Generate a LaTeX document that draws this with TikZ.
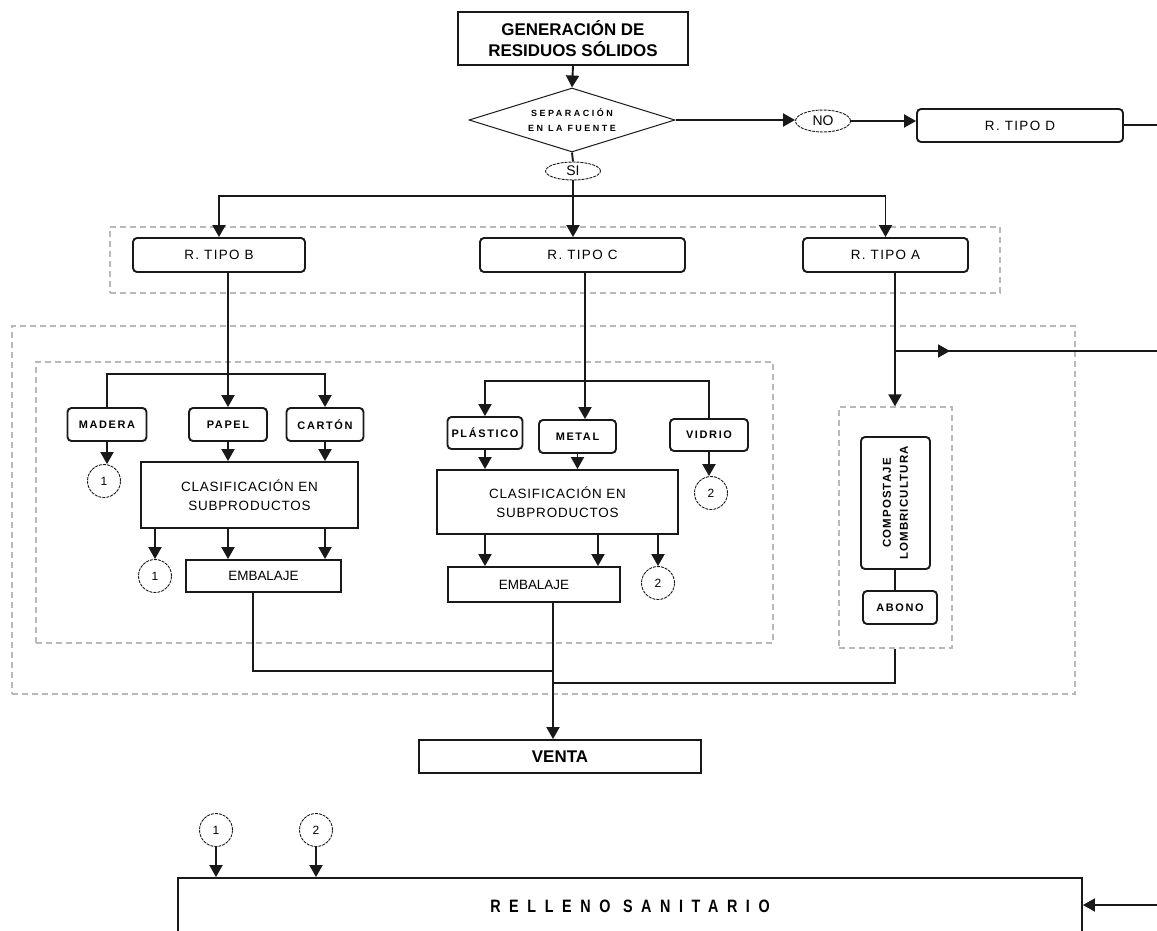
\documentclass[tikz,border=0pt]{standalone}
\usepackage{fontspec}
\setmainfont{Liberation Sans}
\usepackage{graphicx}
\usetikzlibrary{arrows.meta,shapes.geometric,calc}

% letter spacing in percent of the font size
\newcommand\spaced[1]{\addfontfeatures{LetterSpace=#1}}

\tikzset{
  ink/.style={draw=black!90, line width=1.9bp},
  sqbox/.style={ink, rectangle, inner sep=0bp, align=center},
  rbox/.style={sqbox, rounded corners=4bp},
  tipo/.style={rbox, minimum height=34bp, font=\fontsize{13.5}{15}\selectfont\spaced{10}},
  item/.style={rbox, minimum height=33bp, font=\fontsize{11}{13}\selectfont\bfseries\spaced{15}},
  group/.style={draw=gray!55, line width=1.2bp, dash pattern=on 6bp off 4bp, rectangle, inner sep=0bp},
  ref/.style={circle, draw=black!90, line width=0.9bp, dash pattern=on 3bp off 1bp, minimum size=33bp, inner sep=0bp, font=\fontsize{12}{14}\selectfont},
  tag/.style={ellipse, draw=black!90, line width=0.9bp, dash pattern=on 3bp off 1bp, inner sep=0bp, font=\fontsize{14}{16}\selectfont},
  flow/.style={ink, -{Triangle[width=13bp,length=12bp]}},
  link/.style={ink},
  clas/.style={sqbox, font=\fontsize{13.5}{19}\selectfont\spaced{6}},
}

\begin{document}
\begin{tikzpicture}[x=1bp,y=-1bp]
\useasboundingbox (0,0) rectangle (1157,931);
\fill[white] (0,0) rectangle (1157,931);
\clip (0,0) rectangle (1157,931);

% dashed groupings
\node[group, minimum width=890bp, minimum height=66bp] (gTipos) at (555,260) {};
\node[group, minimum width=1063bp, minimum height=368bp] (gProc) at (543.5,510) {};
\node[group, minimum width=737bp, minimum height=281bp] (gRecic) at (404.5,502.5) {};
\node[group, minimum width=113bp, minimum height=241bp] (gOrg) at (895.5,527.5) {};

% source and separation
\node[sqbox, minimum width=230bp, minimum height=53bp, font=\fontsize{17}{21}\selectfont\bfseries] (gen) at (573,38.5) {GENERACIÓN DE\\RESIDUOS SÓLIDOS};
\node[diamond, draw=black!90, line width=1bp, minimum width=206bp, minimum height=64bp, inner sep=0bp, aspect=3.2, align=center, font=\fontsize{9}{15}\selectfont\bfseries\spaced{28}] (sep) at (572,120) {SEPARACIÓN\\EN LA FUENTE};
\node[tag, minimum width=55bp, minimum height=18bp] (si) at (573,171) {SI};
\node[tag, minimum width=55bp, minimum height=22bp] (no) at (823,121) {NO};
\node[tipo, minimum width=206bp, minimum height=33bp] (tipoD) at (1020,125.5) {R. TIPO D};

% waste types
\node[tipo, minimum width=172bp] (tipoB) at (219,255) {R. TIPO B};
\node[tipo, minimum width=205bp] (tipoC) at (582.5,255) {R. TIPO C};
\node[tipo, minimum width=165bp] (tipoA) at (885.5,255) {R. TIPO A};

% type B
\node[item, minimum width=79bp] (madera) at (107,424.5) {MADERA};
\node[item, minimum width=78bp] (papel) at (228,424.5) {PAPEL};
\node[item, minimum width=77bp] (carton) at (325,424.5) {CARTÓN};
\node[ref] (r1a) at (104,481) {1};
\node[clas, minimum width=217bp, minimum height=66bp] (clasB) at (249.5,495) {CLASIFICACIÓN EN\\SUBPRODUCTOS};
\node[ref] (r1b) at (155,576) {1};
\node[sqbox, minimum width=155bp, minimum height=32bp, font=\fontsize{13.5}{16}\selectfont] (embB) at (263.5,576) {EMBALAJE};

% type C
\node[item, minimum width=75bp, minimum height=32bp] (plastico) at (485,433) {PLÁSTICO};
\node[item, minimum width=77bp] (metal) at (577.5,436.5) {METAL};
\node[item, minimum width=78bp, minimum height=32bp] (vidrio) at (709,435) {VIDRIO};
\node[ref] (r2a) at (711,493) {2};
\node[clas, minimum width=241bp, minimum height=64bp] (clasC) at (557.5,502) {CLASIFICACIÓN EN\\SUBPRODUCTOS};
\node[ref] (r2b) at (658,583) {2};
\node[sqbox, minimum width=172bp, minimum height=35bp, font=\fontsize{13.5}{16}\selectfont] (embC) at (534,584.5) {EMBALAJE};

% type A
\node[rbox, minimum width=69bp, minimum height=132bp] (compost) at (895.5,503) {};
\node[rotate=90, align=center, inner sep=0bp, font=\fontsize{11.5}{17}\selectfont\bfseries\spaced{10}] (compostText) at (compost.center) {COMPOSTAJE\\LOMBRICULTURA};
\node[item, minimum width=74bp] (abono) at (900,607.5) {ABONO};

% outputs
\node[sqbox, minimum width=282bp, minimum height=33bp, font=\fontsize{17}{20}\selectfont\bfseries] (venta) at (560,756.5) {VENTA};
\node[ref] (r1c) at (216,830) {1};
\node[ref] (r2c) at (316,830) {2};
\node[sqbox, minimum width=904bp, minimum height=56bp, font=\fontsize{18}{20}\selectfont\bfseries\spaced{60}] (relleno) at (630,906) {\scalebox{0.8}[1]{RELLENO SANITARIO}};

% junction points
\coordinate (fork) at (573,196);
\coordinate (bFork) at (228,374);
\coordinate (cFork) at (585,381);
\coordinate (aFork) at (895,351);
\coordinate (aMid) at (950,351);
\coordinate (trunk) at (553,671);
\coordinate (trunkA) at (553,683);
\coordinate (edgeD) at (1160,125);
\coordinate (edgeA) at (1160,351);
\coordinate (edgeR) at (1160,905);

% top part
\draw[flow] (gen.south) -- (sep.north);
\draw[link] (sep.south) -- (si.north);
\draw[flow] (sep.east) -- (sep.east -| no.west);
\draw[flow] (no.east) -- (no.east -| tipoD.west);
\draw[link] (tipoD.east |- edgeD) -- (edgeD);
\draw[link] (si.south) -- (fork);
\draw[flow] (fork) -| (tipoB.north);
\draw[flow] (fork) -| (tipoA.north);
\draw[flow] (fork) -- (fork |- tipoC.north);

% type B connectors
\draw[flow] (tipoB.south -| papel.north) -- (papel.north);
\draw[link] (bFork) -| (madera.north);
\draw[flow] (bFork) -| (carton.north);
\draw[flow] (madera.south) -- (madera.south |- r1a.north);
\draw[flow] (papel.south) -- (papel.south |- clasB.north);
\draw[flow] (carton.south) -- (carton.south |- clasB.north);
\draw[flow] (r1b.north |- clasB.south) -- (r1b.north);
\draw[flow] (papel.south |- clasB.south) -- (papel.south |- embB.north);
\draw[flow] (carton.south |- clasB.south) -- (carton.south |- embB.north);
\draw[link] ([xshift=-10.5bp]embB.south) |- (trunk);

% type C connectors
\draw[link] (tipoC.south -| cFork) -- (cFork);
\draw[flow] (cFork) -| (plastico.north);
\draw[flow] (cFork) -- (cFork |- metal.north);
\draw[link] (cFork) -| (vidrio.north);
\draw[flow] (plastico.south) -- (plastico.south |- clasC.north);
\draw[flow] (metal.south) -- (metal.south |- clasC.north);
\draw[flow] (vidrio.south) -- (vidrio.south |- r2a.north);
\draw[flow] (plastico.south |- clasC.south) -- (plastico.south |- embC.north);
\draw[flow] ([xshift=64bp]embC.north |- clasC.south) -- ([xshift=64bp]embC.north);
\draw[flow] (r2b.north |- clasC.south) -- (r2b.north);
\draw[flow] ([xshift=19bp]embC.south) -- ([xshift=19bp]embC.south |- venta.north);

% type A connectors
\draw[link] (tipoA.south -| aFork) -- (aFork);
\draw[flow] (aFork) -- (aFork |- gOrg.north);
\draw[link] (aFork) -- (edgeA);
\draw[flow] (aFork) -- (aMid);
\draw[link] (compost.south -| aFork) -- (aFork |- abono.north);
\draw[link] (gOrg.south -| aFork) |- (trunkA);

% landfill inputs
\draw[flow] (r1c.south) -- (r1c.south |- relleno.north);
\draw[flow] (r2c.south) -- (r2c.south |- relleno.north);
\draw[flow] (edgeR) -- (relleno.east |- edgeR);
\end{tikzpicture}
\end{document}
